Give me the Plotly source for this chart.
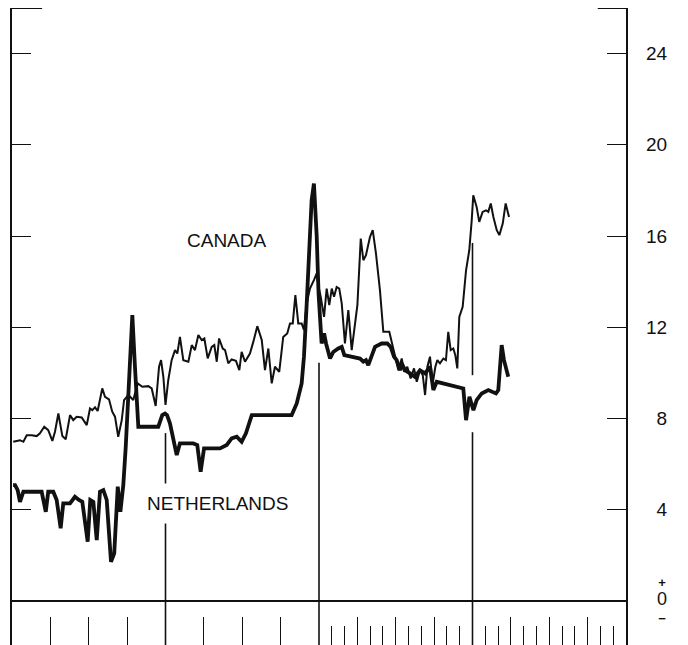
import plotly.graph_objects as go

# ---- data (x in axis segments: 0..4, each segment = one period) ----
canada_x = [0.008, 0.052, 0.074, 0.096, 0.128, 0.161, 0.182, 0.210, 0.236, 0.263, 0.280, 0.302,
            0.328, 0.350, 0.378, 0.399, 0.421, 0.454, 0.487, 0.508, 0.523, 0.541, 0.558, 0.588,
            0.606, 0.632, 0.653, 0.671, 0.692, 0.715, 0.730, 0.758, 0.790, 0.819, 0.849, 0.888,
            0.910, 0.936, 0.958, 0.971, 0.986, 1.000, 1.018, 1.040, 1.062, 1.077, 1.094, 1.116,
            1.149, 1.171, 1.192, 1.214, 1.236, 1.253, 1.275, 1.301, 1.318, 1.334, 1.349, 1.373,
            1.388, 1.409, 1.431, 1.459, 1.481, 1.496, 1.518, 1.550, 1.572, 1.598, 1.627, 1.648,
            1.670, 1.692, 1.713, 1.741, 1.767, 1.793, 1.811, 1.829, 1.846, 1.865, 1.887, 1.902,
            1.920, 1.941, 1.967, 1.985, 1.995, 2.011, 2.033, 2.050, 2.067, 2.083, 2.098, 2.115,
            2.132, 2.148, 2.169, 2.191, 2.213, 2.235, 2.250, 2.272, 2.289, 2.306, 2.332, 2.350,
            2.371, 2.397, 2.419, 2.458, 2.480, 2.495, 2.517, 2.539, 2.554, 2.575, 2.597, 2.619,
            2.637, 2.658, 2.676, 2.691, 2.706, 2.723, 2.741, 2.758, 2.771, 2.788, 2.810, 2.827,
            2.842, 2.858, 2.875, 2.888, 2.901, 2.914, 2.936, 2.958, 2.979, 2.995, 3.005, 3.027,
            3.044, 3.066, 3.088, 3.103, 3.119, 3.136, 3.158, 3.175, 3.197, 3.216, 3.238]
canada_y = [6.98, 7.05, 6.98, 7.27, 7.27, 7.23, 7.35, 7.64, 7.49, 7.02, 7.42, 8.22,
            7.23, 7.09, 8.15, 7.93, 8.08, 8.05, 7.71, 8.44, 8.37, 8.49, 8.33, 9.32,
            8.95, 8.84, 8.30, 8.08, 7.20, 7.93, 8.81, 9.03, 8.81, 9.54, 9.39, 9.42,
            9.32, 8.55, 10.27, 10.56, 9.83, 8.60, 9.68, 10.56, 11.00, 10.85, 11.58, 10.56,
            10.49, 11.22, 11.00, 11.66, 11.44, 11.51, 10.64, 11.14, 11.22, 10.49, 11.51, 11.07,
            11.00, 10.42, 10.59, 10.53, 10.12, 10.92, 10.49, 10.85, 11.36, 12.05, 11.44, 10.12,
            11.07, 9.54, 10.27, 10.05, 11.58, 11.73, 12.17, 12.17, 13.41, 12.17, 12.17, 11.88,
            13.05, 13.70, 14.07, 14.36, 13.85, 13.34, 12.46, 13.70, 12.97, 13.70, 13.34, 13.77,
            13.70, 13.05, 11.29, 12.75, 11.00, 12.31, 12.97, 15.89, 14.94, 15.16, 15.96, 16.26,
            15.24, 13.63, 11.80, 11.80, 11.14, 10.71, 10.12, 10.63, 10.05, 10.27, 9.76, 10.20,
            9.61, 10.12, 9.90, 9.03, 10.27, 10.71, 9.54, 10.27, 10.56, 10.42, 10.63, 10.56,
            11.80, 11.00, 11.07, 10.78, 10.20, 12.46, 12.90, 14.50, 15.38, 16.70, 17.79, 17.28,
            16.62, 17.06, 17.13, 17.06, 17.43, 16.84, 16.26, 16.04, 16.55, 17.43, 16.84]

netherlands_x = [0.007, 0.020, 0.037, 0.052, 0.074, 0.193, 0.220, 0.236, 0.269, 0.291, 0.317,
                 0.334, 0.378, 0.410, 0.436, 0.458, 0.493, 0.510, 0.530, 0.552, 0.573, 0.595,
                 0.617, 0.645, 0.666, 0.689, 0.706, 0.725, 0.741, 0.762, 0.784, 0.801, 0.812,
                 0.823, 0.953, 0.979, 0.997, 1.010, 1.029, 1.051, 1.073, 1.094, 1.181, 1.207,
                 1.229, 1.251, 1.355, 1.399, 1.431, 1.464, 1.496, 1.524, 1.562, 1.822, 1.855,
                 1.887, 1.902, 1.920, 1.937, 1.952, 1.967, 1.985, 1.997, 2.008, 2.017, 2.033,
                 2.046, 2.072, 2.093, 2.126, 2.148, 2.165, 2.267, 2.289, 2.306, 2.321, 2.343,
                 2.365, 2.408, 2.445, 2.467, 2.489, 2.506, 2.528, 2.539, 2.560, 2.593, 2.625,
                 2.658, 2.691, 2.723, 2.745, 2.767, 2.940, 2.958, 2.980, 3.006, 3.027, 3.060,
                 3.103, 3.153, 3.168, 3.190, 3.205, 3.233]
netherlands_y = [5.08, 5.08, 4.86, 4.35, 4.79, 4.79, 3.91, 4.79, 4.79, 4.43, 3.19,
                 4.28, 4.28, 4.57, 4.43, 4.35, 2.60, 4.43, 4.35, 2.67, 4.79, 4.86,
                 4.43, 1.72, 2.09, 5.01, 3.91, 5.08, 6.76, 9.54, 12.53, 10.27, 8.81,
                 7.64, 7.64, 8.15, 8.22, 8.15, 7.79, 6.98, 6.40, 6.91, 6.91, 6.84,
                 5.67, 6.69, 6.69, 6.84, 7.13, 7.20, 6.98, 7.35, 8.15, 8.15, 8.66,
                 9.54, 10.71, 13.05, 15.96, 17.57, 18.30, 16.00, 13.50, 12.00, 11.29, 11.73,
                 11.29, 10.63, 10.92, 11.07, 11.14, 10.78, 10.63, 10.49, 10.56, 10.34, 10.78,
                 11.14, 11.29, 11.29, 11.14, 10.71, 10.56, 10.12, 10.42, 10.12, 9.98, 9.83,
                 10.12, 9.98, 10.27, 9.25, 9.61, 9.32, 7.93, 8.95, 8.37, 8.81, 9.10,
                 9.25, 9.10, 9.25, 11.22, 10.56, 9.83]

# period dividers (x position, lower and upper value of each drawn piece)
divider_x = [1, 2, 3, 3]
divider_lo = [-3, -3, -3, 9.9]
divider_hi = [7.36, 10.45, 7.4, 15.7]

# axis ticks
y_tickvals = [4, 8, 12, 16, 20, 24]
y_ticktext = ["\u20074", "\u20078", "12", "16", "20", "24"]
zero_label = ("<span style='font-size:13px'><b>+</b></span><br>"
              "<span style='font-size:18px'>0</span><br>"
              "<span style='font-size:13px'><b>\u2212</b></span>")
x_major_ticks = [0.25, 0.5, 0.75, 1.25, 1.5, 1.75, 2.25, 2.5, 2.75, 3.25, 3.5, 3.75]
x_minor_ticks = [2 + k / 12 for k in range(1, 12) if k % 3] + [3 + k / 12 for k in range(1, 12) if k % 3]

# series labels
label_text = ["CANADA", "NETHERLANDS"]
label_x = [1.403, 1.339]
label_y = [15.79, 4.28]

FONT = "Arial, 'Liberation Sans', sans-serif"
INK = "#111111"

fig = go.Figure()

# dividers
dx, dy = [], []
for x, lo, hi in zip(divider_x, divider_lo, divider_hi):
    dx += [x, x, None]
    dy += [lo, hi, None]
fig.add_trace(go.Scatter(x=dx, y=dy, mode="lines", line=dict(color=INK, width=1.6),
                         hoverinfo="skip", showlegend=False))

fig.add_trace(go.Scatter(x=canada_x, y=canada_y, mode="lines", name="Canada",
                         line=dict(color=INK, width=2.0), showlegend=False))
fig.add_trace(go.Scatter(x=netherlands_x, y=netherlands_y, mode="lines", name="Netherlands",
                         line=dict(color=INK, width=3.8), showlegend=False))

for t, x, y in zip(label_text, label_x, label_y):
    fig.add_annotation(x=x, y=y, text=t, showarrow=False, bgcolor="white", borderpad=9,
                       font=dict(family=FONT, size=19, color=INK))

# the stacked "+ 0 -" label at the zero line
fig.add_annotation(xref="paper", x=1.0586, y=0, xanchor="center", yanchor="middle",
                   text=zero_label, showarrow=False,
                   font=dict(family=FONT, size=14, color=INK))

# top stubs of the frame
fig.add_shape(type="line", xref="paper", yref="paper", x0=0, x1=0.049, y0=1, y1=1,
              line=dict(color=INK, width=2))
fig.add_shape(type="line", xref="paper", yref="paper", x0=0.954, x1=1, y0=1, y1=1,
              line=dict(color=INK, width=2))

fig.update_layout(
    width=680, height=637,
    margin=dict(l=4, r=62, t=0, b=0),
    paper_bgcolor="white", plot_bgcolor="white",
    showlegend=False,
    xaxis=dict(range=[0, 4], showgrid=False, zeroline=False, showline=False,
               tickmode="array", tickvals=x_major_ticks, showticklabels=False,
               ticks="inside", ticklen=28, tickwidth=1.4, tickcolor=INK,
               minor=dict(tickmode="array", tickvals=x_minor_ticks, ticks="inside",
                          ticklen=19, tickwidth=1.2, tickcolor=INK, showgrid=False)),
    yaxis=dict(range=[-1.93, 26], side="right", showgrid=False,
               zeroline=True, zerolinecolor=INK, zerolinewidth=1.6,
               showline=True, linecolor=INK, linewidth=2.2, mirror="ticks",
               tickmode="array", tickvals=y_tickvals, ticktext=y_ticktext,
               ticks="inside", ticklen=19, tickwidth=1.4, tickcolor=INK,
               ticklabelstandoff=14,
               tickfont=dict(family=FONT, size=19, color=INK)),
)

fig.write_html("out.html")
